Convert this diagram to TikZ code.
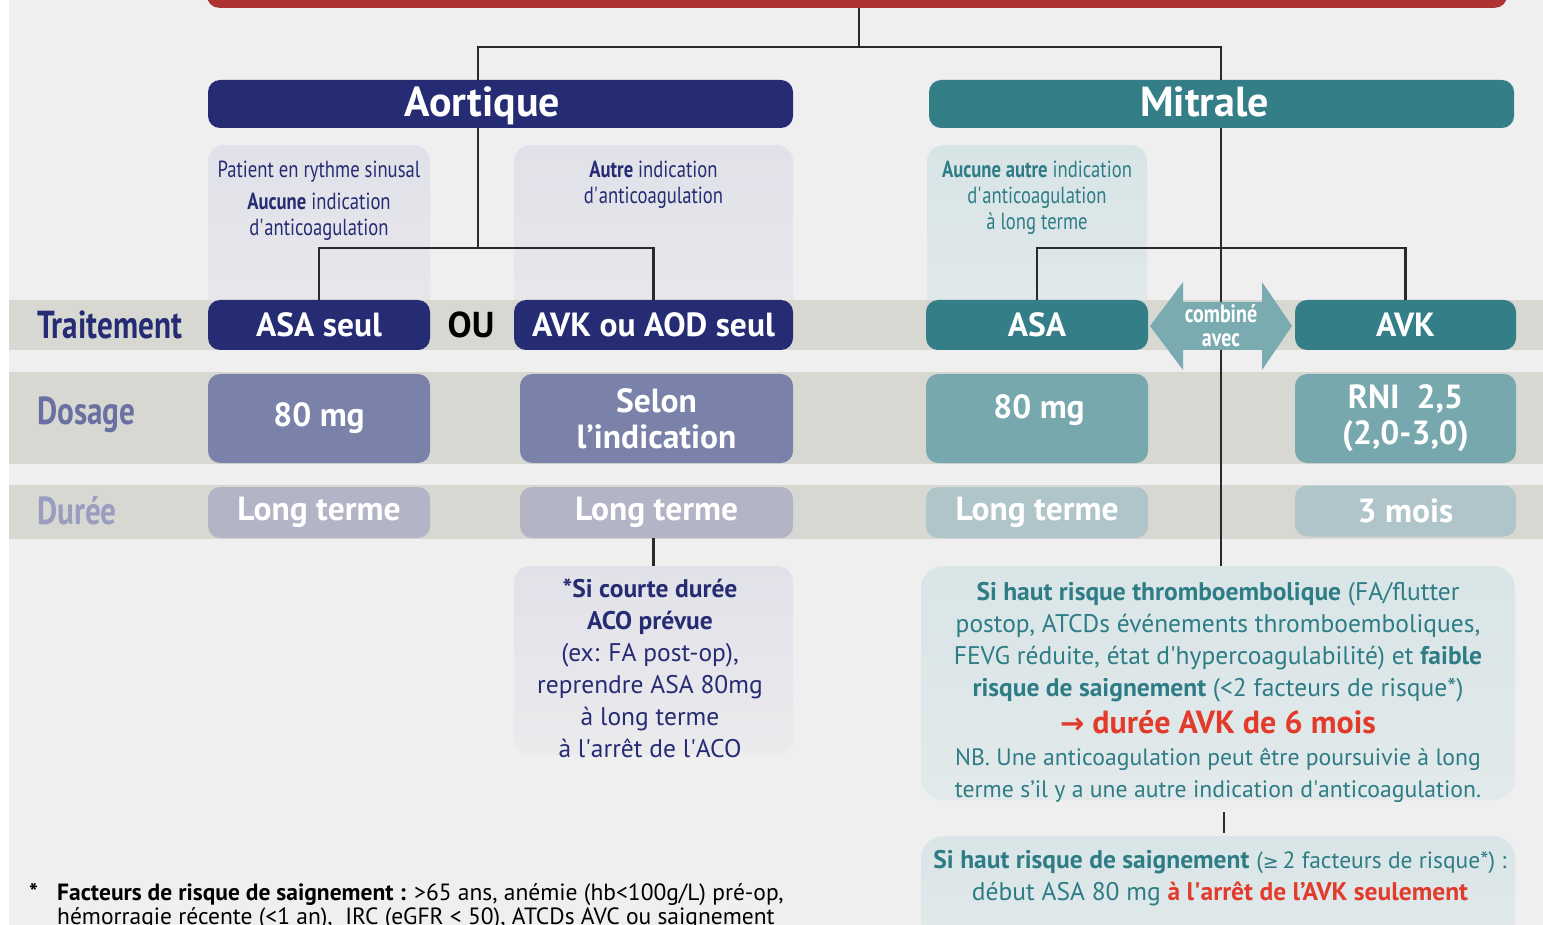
\documentclass[tikz,border=0pt]{standalone}
\usepackage{fontspec}
\setmainfont{PT Sans}
\newfontfamily\condf[FakeStretch=0.8]{PT Sans}
\newfontfamily\dejavu{DejaVu Sans}
\definecolor{navy}{HTML}{262C73}
\definecolor{tealD}{HTML}{337E87}
\definecolor{tealT}{HTML}{2E7C85}
\definecolor{redbar}{HTML}{AE3232}
\definecolor{bgc}{HTML}{EFEFEF}
\definecolor{bandc}{HTML}{D8D8D3}
\definecolor{navyM}{HTML}{7A82AA}
\definecolor{navyL}{HTML}{B3B4C6}
\definecolor{tealM}{HTML}{77A8AD}
\definecolor{tealL}{HTML}{B0C5CA}
\definecolor{arrowc}{HTML}{7AABB0}
\definecolor{condN}{HTML}{E1E1E9}
\definecolor{condT}{HTML}{D7E4E6}
\definecolor{boxT}{HTML}{D9E5E7}
\definecolor{redt}{HTML}{E23B2B}
\definecolor{lblD}{HTML}{6B70A2}
\definecolor{lblU}{HTML}{9A9DBF}
\definecolor{linec}{HTML}{2A2A2A}
\newcommand\fhead{\bfseries\fontsize{42}{44}\selectfont}
\newcommand\frow{\bfseries\fontsize{33.5}{36}\selectfont}
\newcommand\flab{\condf\bfseries\fontsize{39}{40}\selectfont}
\newcommand\fcond{\condf\fontsize{23.3}{26}\selectfont}
\newcommand\fbody{\fontsize{25.5}{32}\selectfont}
\newcommand\ffoot{\fontsize{23.5}{24}\selectfont}
\newcommand\sq{\textquotesingle}
\tikzset{
  rbox/.style={rounded corners=12pt, inner sep=0pt, text=white, align=center},
  headbox/.style={rbox, minimum width=585pt, minimum height=48pt, font=\fhead, text height=31pt, text depth=5pt},
  condbox/.style={rounded corners=16pt, inner sep=0pt, minimum height=180pt, anchor=north},
  link/.style={draw=linec, line width=2.2pt},
  rowlabel/.style={anchor=west, inner sep=0pt, font=\flab}
}
\begin{document}
\begin{tikzpicture}[x=1pt,y=-1pt]
\useasboundingbox (0,0) rectangle (1543,925);
\clip (0,0) rectangle (1543,925);
\fill[white] (0,0) rectangle (1543,925);
\fill[bgc] (9,0) rectangle (1543,925);

% top bar
\node[rbox, fill=redbar, minimum width=1300pt, minimum height=40pt, anchor=south] (top) at (857,8) {};

% headers
\node[headbox, fill=navy] (aort) at (500.5,104) {Aortique\hspace{36pt}};
\node[headbox, fill=tealD] (mit) at (1221.5,104) {Mitrale\hspace{34pt}};

% condition boxes
\node[condbox, top color=condN, bottom color=condN!55!bgc, minimum width=222pt] (cL) at (319,145) {};
\node[condbox, top color=condN, bottom color=condN!55!bgc, minimum width=279pt] (cM) at (653.5,145) {};
\node[condbox, top color=condT, bottom color=condT!55!bgc, minimum width=220pt] (cT) at (1037,145) {};
\node[anchor=north, inner sep=0pt, text=navy, align=center, font=\fcond] (tL) at (cL.north) [yshift=-16pt]
  {Patient en rythme sinusal\\[6pt]\textbf{Aucune} indication\\d\sq anticoagulation};
\node[anchor=north, inner sep=0pt, text=navy, align=center, font=\fcond] (tM) at (cM.north) [yshift=-16pt]
  {\textbf{Autre} indication\\d\sq anticoagulation};
\node[anchor=north, inner sep=0pt, text=tealT, align=center, font=\fcond] (tT) at (cT.north) [yshift=-16pt]
  {\textbf{Aucune autre} indication\\d\sq anticoagulation\\à long terme};

% bands
\fill[bandc] (9,300) rectangle (1543,350);
\fill[bandc] (9,372) rectangle (1543,464);
\fill[bandc] (9,485) rectangle (1543,539);

% row labels
\node[rowlabel, text=navy] (lT) at (37,325) {Traitement};
\node[rowlabel, text=lblD] (lD) at (37,415) {Dosage};
\node[rowlabel, text=lblU] (lU) at (37,511) {Durée};

% treatment row
\node[rbox, fill=navy, minimum width=222pt, minimum height=50pt, font=\frow] (asa1) at (319,325) {ASA seul};
\node[inner sep=0pt, font=\bfseries\fontsize{36}{38}\selectfont, text=black] (ou) at (471,325) {OU};
\node[rbox, fill=navy, minimum width=279pt, minimum height=50pt, font=\frow] (avk1) at (653.5,325) {AVK ou AOD seul};
\node[rbox, fill=tealD, minimum width=222pt, minimum height=50pt, font=\frow] (asa2) at (1037,325) {ASA};
\node[rbox, fill=tealD, minimum width=221pt, minimum height=50pt, font=\frow] (avk2) at (1405.5,325) {AVK};

% dosage row
\node[rbox, fill=navyM, minimum width=222pt, minimum height=89pt, font=\frow] (d1) at (319,418.5) {80 mg};
\node[rbox, fill=navyM, minimum width=273pt, minimum height=89pt, font=\frow] (d2) at (656.5,418.5) {Selon\\l’indication};
\node[rbox, fill=tealM, minimum width=222pt, minimum height=89pt, font=\frow] (d3) at (1037,418.5) {};
\node[inner sep=0pt, font=\frow, text=white] (d3t) at (1039,410) {80 mg};
\node[rbox, fill=tealM, minimum width=221pt, minimum height=89pt, font=\frow] (d4) at (1405.5,418.5) {RNI\ \ 2,5\\(2,0-3,0)};

% duration row
\node[rbox, fill=navyL, minimum width=222pt, minimum height=51pt, font=\frow] (u1) at (319,512.5) {Long terme};
\node[rbox, fill=navyL, minimum width=273pt, minimum height=51pt, font=\frow] (u2) at (656.5,512.5) {Long terme};
\node[rbox, fill=tealL, minimum width=222pt, minimum height=51pt, font=\frow] (u3) at (1037,512.5) {Long terme};
\node[rbox, fill=tealL, minimum width=221pt, minimum height=51pt, font=\frow] (u4) at (1405.5,511) {3 mois};

% note boxes
\node[rounded corners=16pt, top color=condN, bottom color=bgc!70!condN, minimum width=279pt, minimum height=189pt, anchor=north, inner sep=0pt] (note) at (653.5,566) {};
\node[anchor=north, inner sep=0pt, text=navy, align=center, font=\fbody] (noteT) at (650,579)
  {\textbf{*Si courte durée}\\\textbf{ACO prévue}\\(ex: FA post-op),\\reprendre ASA 80mg\\à long terme\\à l\sq arrêt de l\sq ACO};

\node[rounded corners=22pt, top color=boxT, bottom color=boxT!60!bgc, minimum width=594pt, minimum height=234pt, anchor=north, inner sep=0pt] (bigT) at (1218,566) {};
\node[anchor=north, inner sep=0pt, text=tealT, align=center, font=\fbody] (bigTt) at (1218,582)
  {\textbf{Si haut risque thromboembolique} (FA/flutter\\
   postop, ATCDs événements thromboemboliques,\\
   FEVG réduite, état d\sq hypercoagulabilité) et \textbf{faible}\\
   \textbf{risque de saignement} (<2 facteurs de risque*)\\[5pt]
   {\color{redt}\bfseries\fontsize{32}{32}\selectfont{\dejavu\bfseries\fontsize{29}{32}\selectfont →} durée AVK de 6 mois}\\[0pt]
   {\fontsize{23.7}{32}\selectfont NB. Une anticoagulation peut être poursuivie à long}\\
   {\fontsize{23.7}{32}\selectfont terme s’il y a une autre indication d\sq anticoagulation.}};

\node[rounded corners=22pt, top color=boxT, bottom color=boxT!60!bgc, minimum width=594pt, minimum height=110pt, anchor=north, inner sep=0pt] (bigT2) at (1218,836) {};
\node[anchor=north, inner sep=0pt, text=tealT, align=center, font=\fbody] (bigT2t) at (1220,850)
  {\textbf{Si haut risque de saignement} {\fontsize{23.5}{32}\selectfont({\dejavu\fontsize{19}{24}\selectfont ≥}\,2 facteurs de risque*) :}\\
   début ASA 80 mg {\color{redt}\bfseries à l\sq arrêt de l’AVK seulement}};

% connectors
\coordinate (jt) at (859,47);
\coordinate (ja) at (478,248);
\coordinate (jm) at (1221,248);
\coordinate (jb) at (1224,0);
\draw[link] (top.south -| jt) -- (jt);
\draw[link] (aort.north -| ja) |- (jt) -| (mit.north -| jm);
\draw[link] (aort.south -| ja) -- (ja);
\draw[link] (asa1.north) |- (ja) -| (avk1.north);
\draw[link] (mit.south -| jm) -- (jm);
\draw[link] (asa2.north) |- (jm) -| (avk2.north);
\draw[link] (jm) -- (bigT.north -| jm);
\draw[link] (u2.south -| note.north) -- (note.north);
\draw[link] ([yshift=-12pt]bigT.south -| jb) -- ([yshift=3pt]bigT2.north -| jb);

% combined arrow
\fill[arrowc] (1150,326) -- (1183,282) -- (1183,302) -- (1262,302) -- (1262,282) -- (1292,326)
  -- (1262,370) -- (1262,350) -- (1183,350) -- (1183,370) -- cycle;
\node[inner sep=0pt, text=white, align=center, font=\condf\bfseries\fontsize{25}{24}\selectfont] (comb) at (1221,326) {combiné\\avec};

% footnote
\node[anchor=base west, inner sep=0pt, font=\ffoot] (star) at (29,900) {\textbf{*}};
\node[anchor=base west, inner sep=0pt, font=\ffoot] (foot1) at (57,900)
  {\textbf{Facteurs de risque de saignement :} >65 ans, anémie (hb<100g/L) pré-op,};
\node[anchor=base west, inner sep=0pt, font=\ffoot] (foot2) at (57,924)
  {hémorragie récente (<1 an),\ \ IRC (eGFR < 50), ATCDs AVC ou saignement};
\end{tikzpicture}
\end{document}
